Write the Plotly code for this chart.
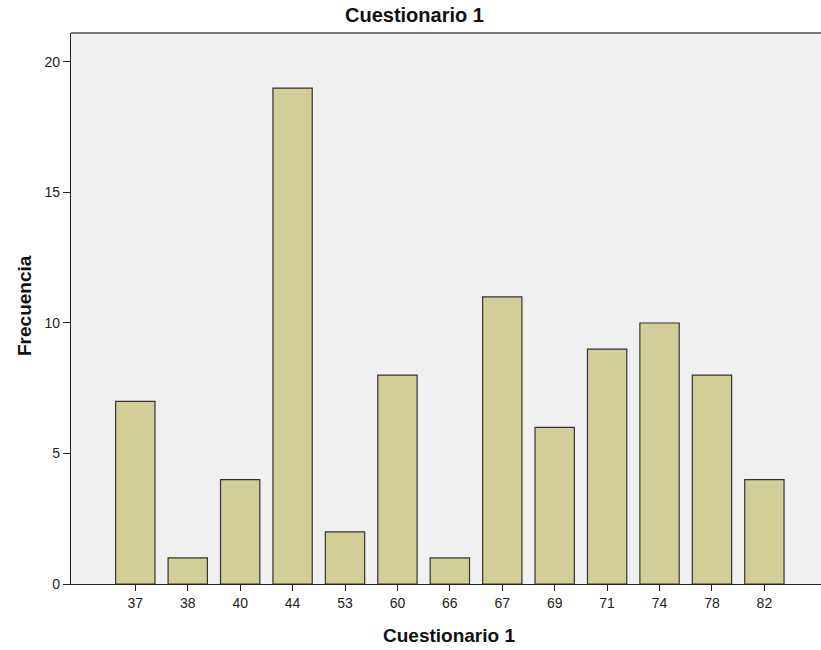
import plotly.graph_objects as go

categories = ["37", "38", "40", "44", "53", "60", "66", "67", "69", "71", "74", "78", "82"]
frequencies = [7, 1, 4, 19, 2, 8, 1, 11, 6, 9, 10, 8, 4]
y_ticks = [0, 5, 10, 15, 20]

W, H = 821, 650
L, R, T, B = 71, 0, 33, 66
PW, PH = W - L - R, H - T - B

FONT = "Liberation Sans, Arial, sans-serif"

fig = go.Figure(go.Bar(
    x=list(range(len(categories))),
    y=frequencies,
    width=0.75,
    marker=dict(color="#D3CE97", line=dict(color="#333333", width=1.2)),
))

fig.update_layout(
    width=W, height=H,
    margin=dict(l=L, r=R, t=T, b=B),
    paper_bgcolor="white",
    plot_bgcolor="#F0F0F0",
    showlegend=False,
    font=dict(family=FONT, color="#222222"),
    xaxis=dict(
        range=[-1.227, 13.08],
        tickmode="array",
        tickvals=list(range(len(categories))),
        ticktext=categories,
        ticks="outside", ticklen=6, tickcolor="#222222", tickwidth=1.2,
        showline=True, linecolor="#222222", linewidth=1.2,
        showgrid=False, zeroline=False,
        tickfont=dict(size=14, family=FONT),
    ),
    yaxis=dict(
        range=[0, 21.11],
        tickmode="array",
        tickvals=y_ticks,
        ticks="outside", ticklen=7, tickcolor="#222222", tickwidth=1.2,
        showline=True, linecolor="#222222", linewidth=1.2,
        showgrid=False, zeroline=False,
        tickfont=dict(size=14, family=FONT),
    ),
    shapes=[dict(type="line", xref="paper", yref="paper", x0=0, x1=1, y0=1, y1=1,
                 line=dict(color="#7A7A7A", width=2))],
    annotations=[
        dict(text="<b>Cuestionario 1</b>", xref="paper", yref="paper",
             x=(414 - L) / PW, y=1 + (T - 15) / PH,
             showarrow=False, font=dict(size=20, color="#111111", family=FONT),
             xanchor="center", yanchor="middle"),
        dict(text="<b>Cuestionario 1</b>", xref="paper", yref="paper",
             x=(449 - L) / PW, y=-(635 - (H - B)) / PH,
             showarrow=False, font=dict(size=19, color="#111111", family=FONT),
             xanchor="center", yanchor="middle"),
        dict(text="<b>Frecuencia</b>", xref="paper", yref="paper",
             x=-(L - 24) / PW, y=(H - B - 306) / PH,
             showarrow=False, textangle=-90, font=dict(size=19, color="#111111", family=FONT),
             xanchor="center", yanchor="middle"),
    ],
)

fig.write_html("out.html", config={"displayModeBar": False},
               post_script="document.body.style.margin='0';document.body.style.overflow='hidden';")
